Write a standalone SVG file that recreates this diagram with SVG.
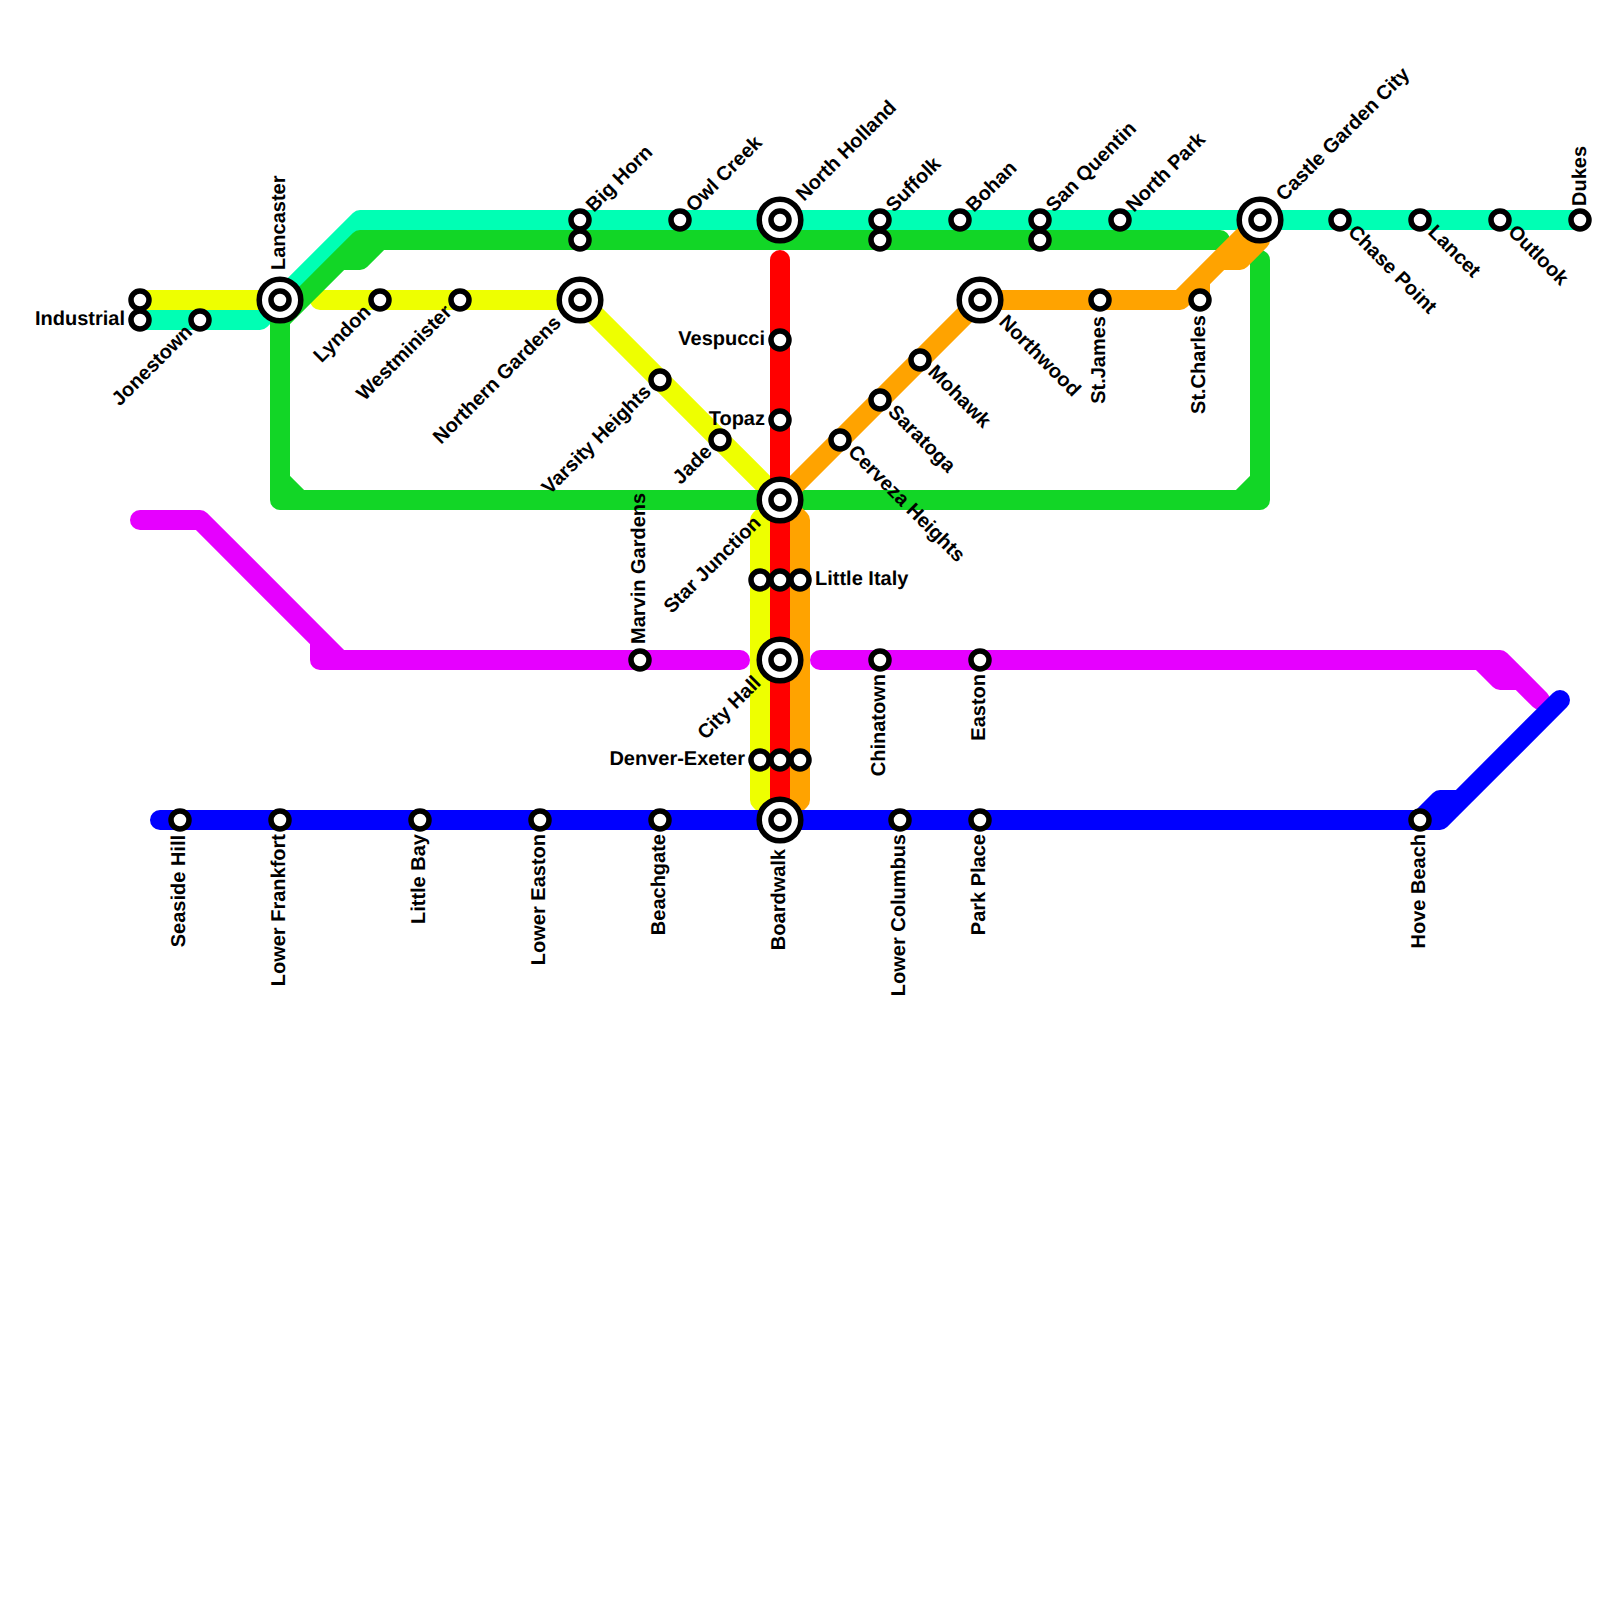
<svg xmlns="http://www.w3.org/2000/svg" width="1600" height="1600" viewBox="0 0 1600 1600">
<style>
.l{fill:none;stroke-width:20;stroke-linecap:round;stroke-linejoin:round}
.s{fill:#fff;stroke:#000;stroke-width:5.5}
.t{font-family:"Liberation Sans",Arial,sans-serif;font-weight:700;font-size:20px;fill:#000;text-rendering:geometricPrecision}
.e{text-anchor:end}
</style>
<defs>
<g id="sm"><circle class="s" r="9"/></g>
<g id="lg"><circle class="s" r="20.8"/><circle class="s" r="9"/></g>
</defs>
<rect width="1600" height="1600" fill="#fff"/>
<g id="connectors">
<path class="l" stroke="#00ffb4" d="M140 320H260L360 220H1580"/>
<path class="l" stroke="#eeff00" d="M140 300H280M320 300H580L780 500L760 520V800L780 820"/>
<path class="l" stroke="#e600ff" d="M140 520H200L340 660M320 640V660H740M820 660H1500L1540 700M1480 660L1500 680H1520L1540 700"/>
<path class="l" stroke="#12d626" d="M1260 260V500H280V320L340 260H360L380 240H1220M280 320L360 240H380M280 480L300 500M1260 480L1240 500"/>
<path class="l" stroke="#ffa300" d="M780 820L800 800V520L780 500L980 300H1180L1260 220M1200 300V280L1220 260H1240L1260 240"/>
<path class="l" stroke="#0000ff" d="M160 820H1440L1560 700M1420 820L1440 800H1460"/>
<path class="l" stroke="#ff0000" d="M780 260V820"/>
</g>
<g id="st-industrial"><use href="#sm" x="140" y="300"/><use href="#sm" x="140" y="320"/><text class="t e" x="125" y="325">Industrial</text></g>
<g id="st-jonestown"><use href="#sm" x="200" y="320"/><text class="t e" transform="translate(193.500 333) rotate(-45)">Jonestown</text></g>
<g id="st-lancaster"><use href="#lg" x="280" y="300"/><text class="t" transform="translate(285 270) rotate(-90)">Lancaster</text></g>
<g id="st-lyndon"><use href="#sm" x="380" y="300"/><text class="t e" transform="translate(372 313) rotate(-45)">Lyndon</text></g>
<g id="st-westminister"><use href="#sm" x="460" y="300"/><text class="t e" transform="translate(453 313) rotate(-45)">Westminister</text></g>
<g id="st-northern-gardens"><use href="#lg" x="580" y="300"/><text class="t e" transform="translate(562 324) rotate(-45)">Northern Gardens</text></g>
<g id="st-big-horn"><use href="#sm" x="580" y="220"/><use href="#sm" x="580" y="240"/><text class="t" transform="translate(594 213) rotate(-45)">Big Horn</text></g>
<g id="st-owl-creek"><use href="#sm" x="680" y="220"/><text class="t" transform="translate(694 213) rotate(-45)">Owl Creek</text></g>
<g id="st-north-holland"><use href="#lg" x="780" y="220"/><text class="t" transform="translate(804 202) rotate(-45)">North Holland</text></g>
<g id="st-suffolk"><use href="#sm" x="880" y="220"/><use href="#sm" x="880" y="240"/><text class="t" transform="translate(894 213) rotate(-45)">Suffolk</text></g>
<g id="st-bohan"><use href="#sm" x="960" y="220"/><text class="t" transform="translate(974 213) rotate(-45)">Bohan</text></g>
<g id="st-san-quentin"><use href="#sm" x="1040" y="220"/><use href="#sm" x="1040" y="240"/><text class="t" transform="translate(1054 213) rotate(-45)">San Quentin</text></g>
<g id="st-north-park"><use href="#sm" x="1120" y="220"/><text class="t" transform="translate(1134 213) rotate(-45)">North Park</text></g>
<g id="st-castle-garden-city"><use href="#lg" x="1260" y="220"/><text class="t" transform="translate(1284 202) rotate(-45)">Castle Garden City</text></g>
<g id="st-chase-point"><use href="#sm" x="1340" y="220"/><text class="t" transform="translate(1347 233) rotate(45)">Chase Point</text></g>
<g id="st-lancet"><use href="#sm" x="1420" y="220"/><text class="t" transform="translate(1427 233) rotate(45)">Lancet</text></g>
<g id="st-outlook"><use href="#sm" x="1500" y="220"/><text class="t" transform="translate(1507 233) rotate(45)">Outlook</text></g>
<g id="st-dukes"><use href="#sm" x="1580" y="220"/><text class="t" transform="translate(1586 206) rotate(-90)">Dukes</text></g>
<g id="st-vespucci"><use href="#sm" x="780" y="340"/><text class="t e" x="765" y="345">Vespucci</text></g>
<g id="st-topaz"><use href="#sm" x="780" y="420"/><text class="t e" x="765" y="425">Topaz</text></g>
<g id="st-star-junction"><use href="#lg" x="780" y="500"/><text class="t e" transform="translate(762 524) rotate(-45)">Star Junction</text></g>
<g id="st-little-italy"><use href="#sm" x="760" y="580"/><use href="#sm" x="780" y="580"/><use href="#sm" x="800" y="580"/><text class="t" x="815" y="585">Little Italy</text></g>
<g id="st-city-hall"><use href="#lg" x="780" y="660"/><text class="t e" transform="translate(762 684) rotate(-45)">City Hall</text></g>
<g id="st-denver-exeter"><use href="#sm" x="760" y="760"/><use href="#sm" x="780" y="760"/><use href="#sm" x="800" y="760"/><text class="t e" x="745" y="765">Denver-Exeter</text></g>
<g id="st-boardwalk"><use href="#lg" x="780" y="820"/><text class="t e" transform="translate(785 849) rotate(-90)">Boardwalk</text></g>
<g id="st-varsity-heights"><use href="#sm" x="660" y="380"/><text class="t e" transform="translate(652 393) rotate(-45)">Varsity Heights</text></g>
<g id="st-jade"><use href="#sm" x="720" y="440"/><text class="t e" transform="translate(713 453) rotate(-45)">Jade</text></g>
<g id="st-northwood"><use href="#lg" x="980" y="300"/><text class="t" transform="translate(998 323) rotate(45)">Northwood</text></g>
<g id="st-mohawk"><use href="#sm" x="920" y="360"/><text class="t" transform="translate(927 373) rotate(45)">Mohawk</text></g>
<g id="st-saratoga"><use href="#sm" x="880" y="400"/><text class="t" transform="translate(887 413) rotate(45)">Saratoga</text></g>
<g id="st-cerveza-heights"><use href="#sm" x="840" y="440"/><text class="t" transform="translate(847 453) rotate(45)">Cerveza Heights</text></g>
<g id="st-st-james"><use href="#sm" x="1100" y="300"/><text class="t e" transform="translate(1105 316) rotate(-90)">St.James</text></g>
<g id="st-st-charles"><use href="#sm" x="1200" y="300"/><text class="t e" transform="translate(1205 315) rotate(-90)">St.Charles</text></g>
<g id="st-marvin-gardens"><use href="#sm" x="640" y="660"/><text class="t" transform="translate(645 644) rotate(-90)">Marvin Gardens</text></g>
<g id="st-chinatown"><use href="#sm" x="880" y="660"/><text class="t e" transform="translate(885 674) rotate(-90)">Chinatown</text></g>
<g id="st-easton"><use href="#sm" x="980" y="660"/><text class="t e" transform="translate(985 674) rotate(-90)">Easton</text></g>
<g id="st-seaside-hill"><use href="#sm" x="180" y="820"/><text class="t e" transform="translate(185 835) rotate(-90)">Seaside Hill</text></g>
<g id="st-lower-frankfort"><use href="#sm" x="280" y="820"/><text class="t e" transform="translate(285 834) rotate(-90)">Lower Frankfort</text></g>
<g id="st-little-bay"><use href="#sm" x="420" y="820"/><text class="t e" transform="translate(425 834) rotate(-90)">Little Bay</text></g>
<g id="st-lower-easton"><use href="#sm" x="540" y="820"/><text class="t e" transform="translate(545 834) rotate(-90)">Lower Easton</text></g>
<g id="st-beachgate"><use href="#sm" x="660" y="820"/><text class="t e" transform="translate(665 834) rotate(-90)">Beachgate</text></g>
<g id="st-lower-columbus"><use href="#sm" x="900" y="820"/><text class="t e" transform="translate(905 834) rotate(-90)">Lower Columbus</text></g>
<g id="st-park-place"><use href="#sm" x="980" y="820"/><text class="t e" transform="translate(985 834) rotate(-90)">Park Place</text></g>
<g id="st-hove-beach"><use href="#sm" x="1420" y="820"/><text class="t e" transform="translate(1425 834) rotate(-90)">Hove Beach</text></g>
</svg>
